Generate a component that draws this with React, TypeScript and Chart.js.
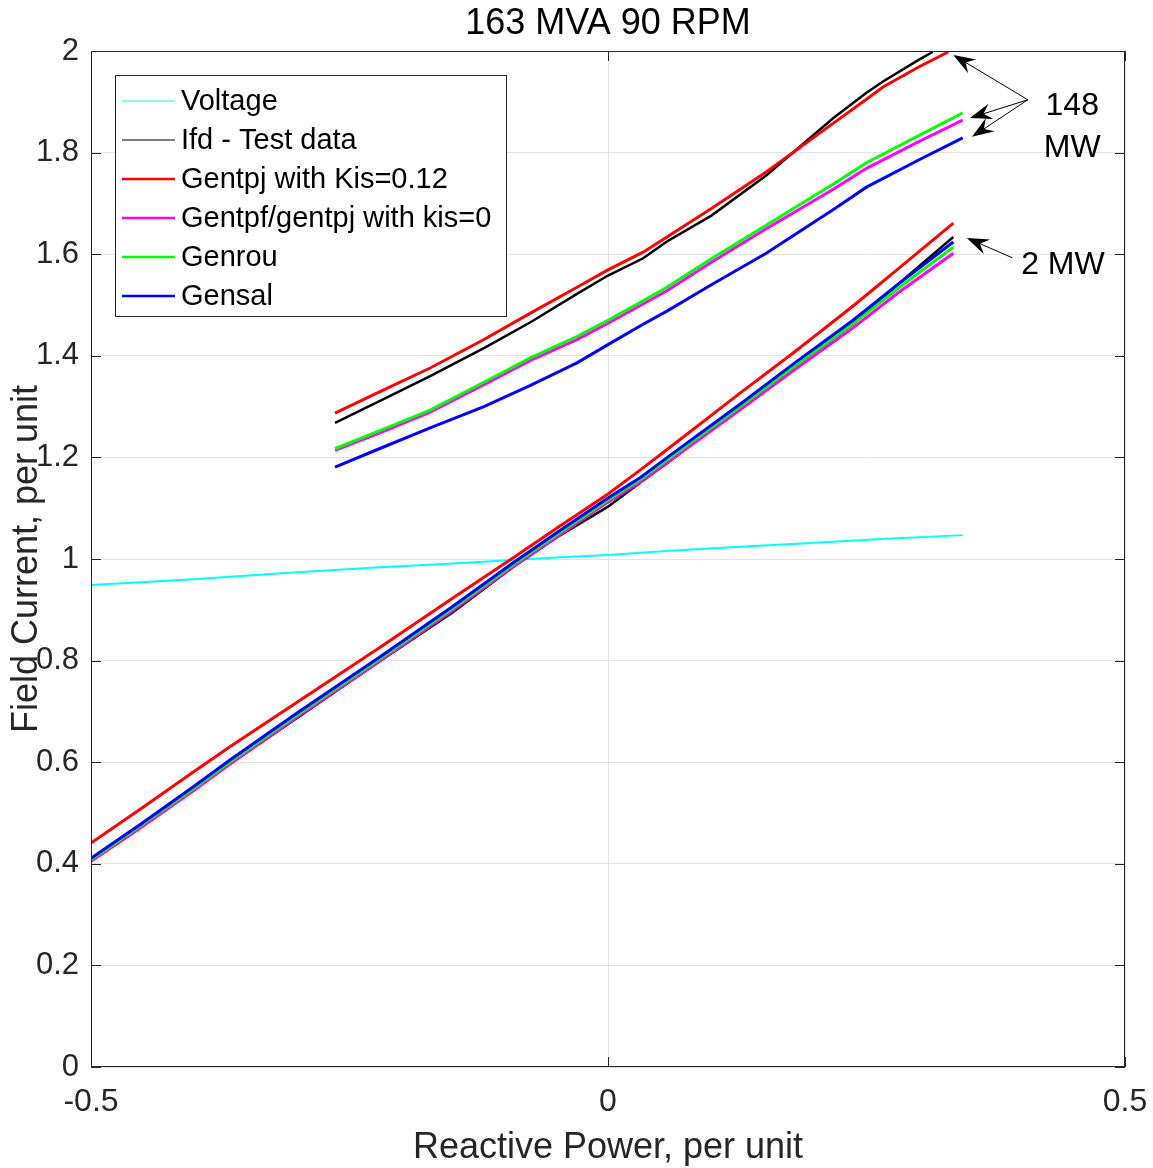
import { useEffect, useRef } from 'react';
import { Chart, registerables } from 'chart.js';

Chart.register(...registerables);

const W = 1153;
const H = 1168;
const FONT = '"Liberation Sans", Arial, Helvetica, sans-serif';
const INK = '#262626';

// ---------- series meta ----------
const seriesLabels = [
  'Voltage',
  'Ifd - Test data',
  'Gentpj with Kis=0.12',
  'Gentpf/gentpj with kis=0',
  'Genrou',
  'Gensal',
];
const seriesColors = ['#00ffff', '#000000', '#ff0000', '#ff00ff', '#00ff00', '#0000ff'];

// ---------- Voltage ----------
const qVoltage = [-0.5, -0.4, -0.366, -0.3, -0.22, -0.15, -0.092, -0.05, 0, 0.06, 0.128, 0.192, 0.26, 0.343];
const voltage = [0.949, 0.96, 0.965, 0.974, 0.984, 0.991, 0.998, 1.003, 1.008, 1.016, 1.024, 1.031, 1.039, 1.047];

// ---------- 148 MW ----------
const qRedHi = [-0.264, -0.22, -0.172, -0.12, -0.075, -0.03, 0, 0.034, 0.057, 0.1, 0.153, 0.218, 0.25, 0.266, 0.3, 0.329];
const ifdRedHi = [1.287, 1.33, 1.376, 1.432, 1.484, 1.535, 1.569, 1.604, 1.634, 1.69, 1.762, 1.858, 1.905, 1.929, 1.968, 1.998];
const qTestHi = [-0.264, -0.22, -0.172, -0.12, -0.075, -0.03, 0, 0.034, 0.057, 0.1, 0.153, 0.218, 0.25, 0.266, 0.3, 0.314];
const ifdTestHi = [1.268, 1.312, 1.36, 1.415, 1.466, 1.522, 1.558, 1.592, 1.625, 1.676, 1.755, 1.868, 1.918, 1.94, 1.982, 1.998];
const qSimHi = [-0.264, -0.22, -0.172, -0.12, -0.075, -0.03, 0, 0.034, 0.057, 0.1, 0.153, 0.218, 0.25, 0.3, 0.343];
const ifdMagentaHi = [1.214, 1.249, 1.289, 1.343, 1.391, 1.432, 1.464, 1.502, 1.528, 1.584, 1.65, 1.728, 1.769, 1.821, 1.864];
const ifdGreenHi = [1.217, 1.253, 1.293, 1.348, 1.396, 1.438, 1.47, 1.508, 1.535, 1.591, 1.657, 1.738, 1.78, 1.833, 1.878];
const ifdBlueHi = [1.181, 1.218, 1.258, 1.3, 1.342, 1.386, 1.422, 1.462, 1.488, 1.54, 1.602, 1.688, 1.732, 1.785, 1.829];

// ---------- 2 MW ----------
const qLo = [-0.5, -0.45, -0.4, -0.366, -0.3, -0.22, -0.15, -0.092, -0.05, 0, 0.031, 0.06, 0.128, 0.18, 0.237, 0.28, 0.334];
const ifdTestLo = [0.405, 0.474, 0.546, 0.596, 0.688, 0.8, 0.895, 0.984, 1.042, 1.103, 1.15, 1.193, 1.3, 1.378, 1.462, 1.54, 1.634];
const ifdRedLo = [0.441, 0.511, 0.582, 0.63, 0.719, 0.827, 0.923, 1.002, 1.06, 1.128, 1.175, 1.22, 1.327, 1.407, 1.498, 1.57, 1.661];
const ifdMagentaLo = [0.405, 0.474, 0.545, 0.596, 0.69, 0.8, 0.899, 0.984, 1.043, 1.112, 1.151, 1.194, 1.294, 1.372, 1.455, 1.523, 1.602];
const ifdGreenLo = [0.408, 0.478, 0.549, 0.6, 0.694, 0.804, 0.903, 0.988, 1.047, 1.116, 1.156, 1.199, 1.3, 1.379, 1.463, 1.532, 1.614];
const ifdBlueLo = [0.411, 0.481, 0.553, 0.604, 0.698, 0.808, 0.907, 0.992, 1.051, 1.12, 1.16, 1.204, 1.305, 1.385, 1.47, 1.54, 1.624];

// ---------- annotations (data units) ----------
const arrows148 = [
  { from: [0.406, 1.904], to: [0.334, 1.992] },
  { from: [0.406, 1.904], to: [0.35, 1.868] },
  { from: [0.406, 1.904], to: [0.352, 1.831] },
];
const arrows2 = [{ from: [0.391, 1.593], to: [0.347, 1.632] }];
const notes = [
  { text: '148', at: [0.449, 1.892] },
  { text: 'MW', at: [0.449, 1.809] },
  { text: '2 MW', at: [0.44, 1.579] },
];

const pts = (q: number[], v: number[]) => q.map((x, i) => ({ x, y: v[i] }));

function mk(idx: number, data: { x: number; y: number }[], width: number) {
  return {
    label: seriesLabels[idx],
    data,
    borderColor: seriesColors[idx],
    backgroundColor: seriesColors[idx],
    borderWidth: width,
    pointRadius: 0,
    showLine: true,
    fill: false,
    tension: 0,
    order: 6 - idx,
  };
}

const overlay = {
  id: 'matlabOverlay',
  afterDraw(chart: any) {
    const { ctx, chartArea: a, scales } = chart;
    const xs = scales.x;
    const ys = scales.y;
    ctx.save();

    // box
    ctx.strokeStyle = INK;
    ctx.lineWidth = 1;
    ctx.strokeRect(Math.round(a.left) + 0.5, Math.round(a.top) + 0.5, Math.round(a.right - a.left) - 1, Math.round(a.bottom - a.top) - 1);

    // inward tick marks
    ctx.beginPath();
    for (let i = 0; i <= 10; i++) {
      const py = Math.round(ys.getPixelForValue(i * 0.2)) + 0.5;
      ctx.moveTo(a.left, py);
      ctx.lineTo(a.left + 10, py);
      ctx.moveTo(a.right, py);
      ctx.lineTo(a.right - 10, py);
    }
    for (const v of [-0.5, 0, 0.5]) {
      const px = Math.round(xs.getPixelForValue(v)) + 0.5;
      ctx.moveTo(px, a.bottom);
      ctx.lineTo(px, a.bottom - 10);
      ctx.moveTo(px, a.top);
      ctx.lineTo(px, a.top + 10);
    }
    ctx.stroke();

    // titles
    ctx.fillStyle = '#000';
    ctx.textAlign = 'center';
    ctx.textBaseline = 'middle';
    ctx.font = `36px ${FONT}`;
    const cx = (a.left + a.right) / 2;
    ctx.fillText('163 MVA 90 RPM', cx, 24);
    ctx.fillStyle = INK;
    ctx.fillText('Reactive Power, per unit', cx, 1148);
    ctx.save();
    ctx.translate(27, (a.top + a.bottom) / 2);
    ctx.rotate(-Math.PI / 2);
    ctx.fillText('Field Current, per unit', 0, 0);
    ctx.restore();

    // legend
    const lx = 115, ly = 75, lw = 391, lh = 241;
    ctx.fillStyle = '#fff';
    ctx.fillRect(lx, ly, lw, lh);
    ctx.strokeStyle = INK;
    ctx.lineWidth = 1;
    ctx.strokeRect(lx + 0.5, ly + 0.5, lw, lh);
    ctx.font = `29px ${FONT}`;
    ctx.textAlign = 'left';
    ctx.textBaseline = 'middle';
    seriesLabels.forEach((lab, i) => {
      const y = 101 + 39 * i;
      ctx.strokeStyle = seriesColors[i];
      ctx.lineWidth = i < 2 ? 1 : 2.5;
      ctx.beginPath();
      ctx.moveTo(122, y);
      ctx.lineTo(175, y);
      ctx.stroke();
      ctx.fillStyle = '#000';
      ctx.fillText(lab, 181, y + 1);
    });

    // annotation arrows
    const drawArrow = (f: number[], t: number[]) => {
      const x0 = xs.getPixelForValue(f[0]);
      const y0 = ys.getPixelForValue(f[1]);
      const x1 = xs.getPixelForValue(t[0]);
      const y1 = ys.getPixelForValue(t[1]);
      const ang = Math.atan2(y1 - y0, x1 - x0);
      const dx = Math.cos(ang), dy = Math.sin(ang);
      const px = -dy, py = dx;
      const L = 22, w = 8;
      const nx = x1 - dx * L * 0.65, ny = y1 - dy * L * 0.65;
      ctx.strokeStyle = '#000';
      ctx.lineWidth = 1;
      ctx.beginPath();
      ctx.moveTo(x0, y0);
      ctx.lineTo(nx, ny);
      ctx.stroke();
      ctx.fillStyle = '#000';
      ctx.beginPath();
      ctx.moveTo(x1, y1);
      ctx.lineTo(x1 - dx * L + px * w, y1 - dy * L + py * w);
      ctx.lineTo(nx, ny);
      ctx.lineTo(x1 - dx * L - px * w, y1 - dy * L - py * w);
      ctx.closePath();
      ctx.fill();
    };
    [...arrows148, ...arrows2].forEach((ar) => drawArrow(ar.from, ar.to));

    ctx.font = `32px ${FONT}`;
    ctx.textAlign = 'center';
    ctx.textBaseline = 'middle';
    ctx.fillStyle = '#000';
    notes.forEach((n) => {
      ctx.fillText(n.text, xs.getPixelForValue(n.at[0]), ys.getPixelForValue(n.at[1]));
    });

    ctx.restore();
  },
};

export default function App() {
  const ref = useRef<HTMLCanvasElement | null>(null);

  useEffect(() => {
    document.body.style.margin = '0';
    const canvas = ref.current;
    if (!canvas) return;
    const datasets = [
      mk(0, pts(qVoltage, voltage), 2),
      mk(1, pts(qTestHi, ifdTestHi), 2.5),
      mk(1, pts(qLo, ifdTestLo), 2.5),
      mk(2, pts(qRedHi, ifdRedHi), 3),
      mk(2, pts(qLo, ifdRedLo), 3),
      mk(3, pts(qSimHi, ifdMagentaHi), 3),
      mk(3, pts(qLo, ifdMagentaLo), 3),
      mk(4, pts(qSimHi, ifdGreenHi), 3),
      mk(4, pts(qLo, ifdGreenLo), 3),
      mk(5, pts(qSimHi, ifdBlueHi), 3),
      mk(5, pts(qLo, ifdBlueLo), 3),
    ];
    const chart = new Chart(canvas, {
      type: 'scatter',
      data: { datasets } as any,
      plugins: [overlay],
      options: {
        responsive: false,
        animation: false,
        devicePixelRatio: 1,
        layout: { padding: { left: 0, top: 51, right: 28, bottom: 0 } },
        plugins: {
          legend: { display: false },
          title: { display: false },
          tooltip: { enabled: false },
        },
        scales: {
          x: {
            type: 'linear',
            min: -0.5,
            max: 0.5,
            afterFit: (s: any) => {
              s.height = 101;
              s.paddingLeft = 0;
              s.paddingRight = 0;
            },
            ticks: {
              stepSize: 0.5,
              padding: 16,
              color: INK,
              font: { family: FONT, size: 32 },
              maxRotation: 0,
              callback: (v: any) => String(Math.round(Number(v) * 10) / 10),
            },
            grid: { color: '#e3e3e3', lineWidth: 1, drawTicks: false },
            border: { display: false },
          },
          y: {
            type: 'linear',
            min: 0,
            max: 2,
            afterFit: (s: any) => {
              s.width = 91;
              s.paddingTop = 0;
              s.paddingBottom = 0;
            },
            ticks: {
              stepSize: 0.2,
              padding: 12,
              color: INK,
              font: { family: FONT, size: 31 },
              callback: (v: any) => String(Math.round(Number(v) * 10) / 10),
            },
            grid: { color: '#e3e3e3', lineWidth: 1, drawTicks: false },
            border: { display: false },
          },
        },
      } as any,
    });
    return () => chart.destroy();
  }, []);

  return (
    <div style={{ width: W, height: H, position: 'relative', background: '#fff' }}>
      <canvas ref={ref} width={W} height={H} style={{ display: 'block' }} />
    </div>
  );
}
